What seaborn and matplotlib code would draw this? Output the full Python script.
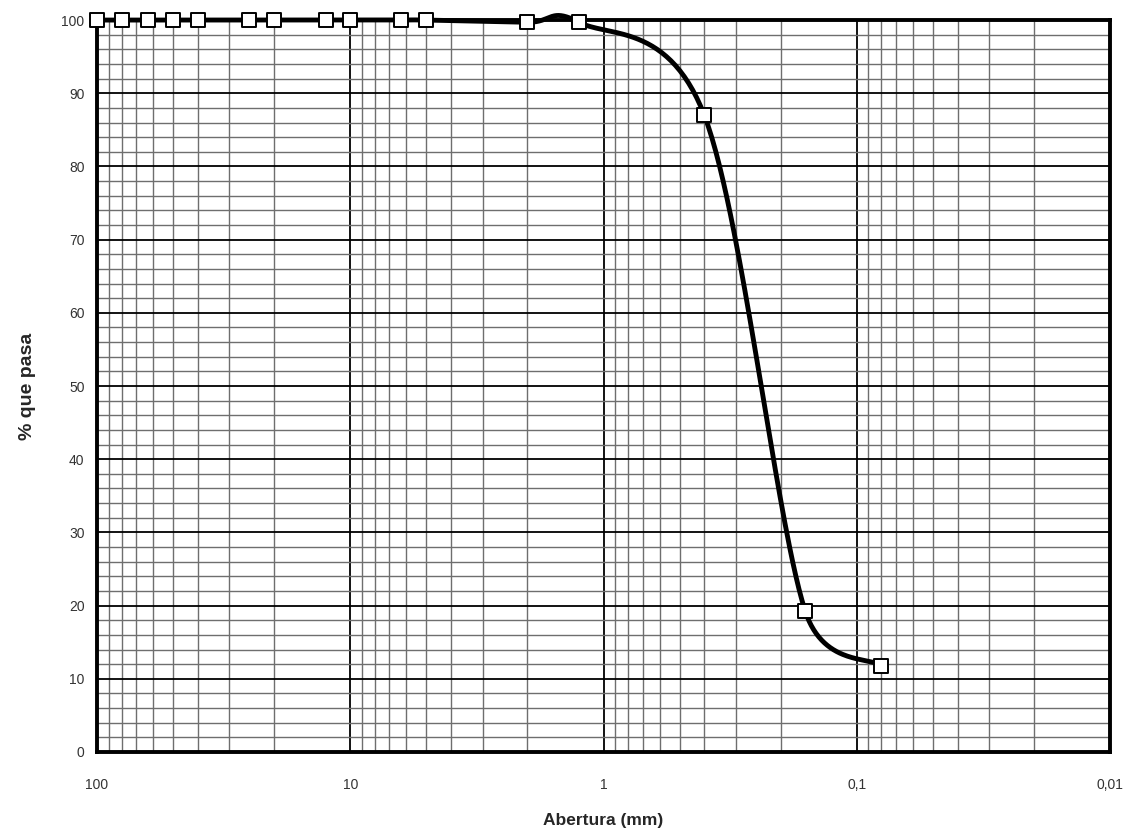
import numpy as np
import pandas as pd
import matplotlib
matplotlib.use("Agg")
import matplotlib.pyplot as plt
import matplotlib.ticker as mticker
import seaborn as sns

# Data (sieve opening in mm, % passing)
aberturas = [100, 80, 63, 50, 40, 25, 20, 12.5, 10, 6.3, 5, 2, 1.25, 0.4, 0.16, 0.08]
pasa = [100, 100, 100, 100, 100, 100, 100, 100, 100, 100, 100, 99.7, 99.7, 87, 19.3, 11.8]
x_ticks = [100, 10, 1, 0.1, 0.01]
x_tick_labels = ["100", "10", "1", "0,1", "0,01"]
y_ticks = [0, 10, 20, 30, 40, 50, 60, 70, 80, 90, 100]

sns.set_style("white")
plt.rcParams["font.family"] = ["Liberation Sans", "DejaVu Sans"]

fig = plt.figure(figsize=(11.37, 8.36), dpi=100)
ax = fig.add_axes([0.0853, 0.1005, 0.8910, 0.8755])
ax.set_xscale("log")
ax.set_xlim(100, 0.01)
ax.set_ylim(0, 100)

# Smoothed line like a spreadsheet "smoothed line": Catmull-Rom Bezier segments
# in screen-proportional space; on rising/falling segments the control points
# are kept within the segment's vertical range (no undershoot).
bbox = ax.get_position()
W = bbox.width * fig.get_figwidth()
H = bbox.height * fig.get_figheight()
sx = W / 4.0      # per decade
sy = H / 100.0    # per percent
u = np.log10(np.array(aberturas, dtype=float)) * sx
v = np.array(pasa, dtype=float) * sy
pts = np.column_stack([u, v])
n = len(pts)


def clamp_ctrl(P, tan, lo, hi):
    c = P + tan
    if c[1] < lo or c[1] > hi:
        lim = lo if c[1] < lo else hi
        if tan[1] != 0:
            tan = tan * (lim - P[1]) / tan[1]
        c = P + tan
    return c


curve = []
t = np.linspace(0, 1, 60)
for i in range(n - 1):
    P0 = pts[i - 1] if i > 0 else pts[i]
    P1 = pts[i]
    P2 = pts[i + 1]
    P3 = pts[i + 2] if i + 2 < n else pts[i + 1]
    T1 = (P2 - P0) / 6.0
    T2 = -(P3 - P1) / 6.0
    if abs(P2[1] - P1[1]) > 1.0 * sy:
        lo, hi = min(P1[1], P2[1]), max(P1[1], P2[1])
        C1 = clamp_ctrl(P1, T1, lo, hi)
        C2 = clamp_ctrl(P2, T2, lo, hi)
    else:
        C1 = P1 + T1
        C2 = P2 + T2
    seg = ((1 - t) ** 3)[:, None] * P1 + (3 * (1 - t) ** 2 * t)[:, None] * C1 \
        + (3 * (1 - t) * t ** 2)[:, None] * C2 + (t ** 3)[:, None] * P2
    curve.append(seg if i == 0 else seg[1:])
curve = np.vstack(curve)
df_curve = pd.DataFrame({"x": 10 ** (curve[:, 0] / sx), "y": curve[:, 1] / sy})
df_pts = pd.DataFrame({"x": aberturas, "y": pasa})

sns.lineplot(data=df_curve, x="x", y="y", sort=False, estimator=None,
             color="black", linewidth=3.5, ax=ax, zorder=3, clip_on=False)
sns.scatterplot(data=df_pts, x="x", y="y", marker="s", s=100, color="white",
                edgecolor="black", linewidth=1.4, ax=ax, zorder=4, clip_on=False)

ax.xaxis.set_major_locator(mticker.FixedLocator(x_ticks))
ax.xaxis.set_major_formatter(mticker.FixedFormatter(x_tick_labels))
ax.xaxis.set_minor_locator(mticker.LogLocator(base=10, subs=np.arange(2, 10)))
ax.xaxis.set_minor_formatter(mticker.NullFormatter())
ax.yaxis.set_major_locator(mticker.FixedLocator(y_ticks))
ax.yaxis.set_minor_locator(mticker.MultipleLocator(2))

ax.set_axisbelow(True)
ax.grid(which="major", color="black", linewidth=1.3)
ax.grid(which="minor", color="#6e6e6e", linewidth=1.0)

ax.tick_params(which="both", length=0, labelsize=10, colors="#333333")
ax.tick_params(axis="x", pad=19)
ax.tick_params(axis="y", pad=9)

for sp in ax.spines.values():
    sp.set_color("black")
    sp.set_linewidth(2.8)

ax.set_xlabel("Abertura (mm)", fontsize=12.5, fontweight="bold", labelpad=15)
ax.set_ylabel("% que pasa", fontsize=14, fontweight="bold", labelpad=18)

fig.savefig("out.png", dpi=100, facecolor="white")
